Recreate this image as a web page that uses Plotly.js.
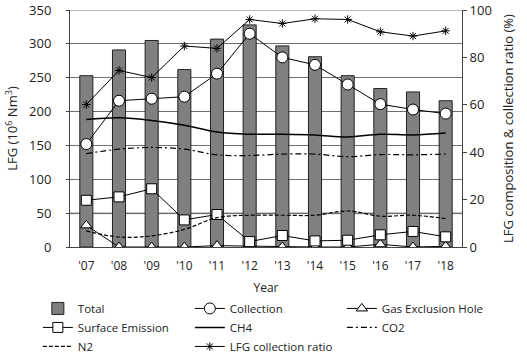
<!DOCTYPE html>
<html><head><meta charset="utf-8">
<script src="https://cdn.plot.ly/plotly-3.0.1.min.js"></script>
<style>html,body{margin:0;padding:0;background:#fff}#c{width:527px;height:353px}</style>
</head><body><div id="c"></div>
<script>
const years = ["'07","'08","'09","'10","'11","'12","'13","'14","'15","'16","'17","'18"];
const total = [253, 291, 305, 262, 307, 328, 297, 281, 253, 234, 229, 216];
const collection = [152, 216, 219, 222, 256, 315, 280, 269, 240, 211, 203, 197];
const gasExclusionHole = [32, 0, 0, 0, 2, 1, 0, 0, 0, 4, 0, 1];
const surfaceEmission = [69, 74, 86, 40, 48, 8, 17, 9, 10, 18, 23, 15];
const ch4 = [53.8, 54.5, 53.4, 51.4, 48.5, 47.6, 47.6, 47.3, 46.4, 47.6, 47.3, 48.1];
const co2 = [39.4, 41.3, 42.0, 41.3, 38.9, 38.6, 39.2, 39.2, 38.1, 39.0, 38.9, 39.2];
const n2 = [6.8, 4.2, 4.7, 7.4, 12.4, 13.4, 13.4, 13.4, 15.2, 13.0, 13.4, 12.0];
const collectionRatio = [60.1, 74.5, 71.5, 84.8, 83.8, 96.0, 94.3, 96.3, 96.0, 90.8, 89.0, 91.2];
const leftTicks = [0, 50, 100, 150, 200, 250, 300, 350];
const rightTicks = [0, 20, 40, 60, 80, 100];

const mk = (sym, size) => ({symbol: sym, size: size, color: '#fff', line: {color: '#000', width: 1}});
const data = [
  {type:'bar', name:'Total', x:years, y:total, width:0.4,
   marker:{color:'#808080', line:{color:'#222', width:1}}},
  {type:'scatter', mode:'lines+markers', name:'Collection', x:years, y:collection,
   line:{color:'#000', width:1}, marker:mk('circle', 11)},
  {type:'scatter', mode:'lines+markers', name:'Gas Exclusion Hole', x:years, y:gasExclusionHole,
   line:{color:'#000', width:1}, marker:mk('triangle-up', 10)},
  {type:'scatter', mode:'lines+markers', name:'Surface Emission', x:years, y:surfaceEmission,
   line:{color:'#000', width:1}, marker:mk('square', 10)},
  {type:'scatter', mode:'lines', name:'CH4', x:years, y:ch4, yaxis:'y2',
   line:{color:'#000', width:1.5, shape:'spline'}},
  {type:'scatter', mode:'lines', name:'CO2', x:years, y:co2, yaxis:'y2',
   line:{color:'#000', width:1.2, shape:'spline', dash:'6px,3px,2px,3px'}},
  {type:'scatter', mode:'lines', name:'N2', x:years, y:n2, yaxis:'y2',
   line:{color:'#000', width:1.2, shape:'spline', dash:'4px,2px'}},
  {type:'scatter', mode:'lines+markers', name:'LFG collection ratio', x:years, y:collectionRatio, yaxis:'y2',
   line:{color:'#000', width:1}, marker:{symbol:'asterisk-open', size:7, color:'#000', line:{color:'#000', width:1}}}
];
const layout = {
  width:527, height:353,
  margin:{l:70, r:65, t:10, b:106, autoexpand:false},
  paper_bgcolor:'#fff', plot_bgcolor:'#fff',
  font:{family:'Open Sans, sans-serif', size:12, color:'#222'},
  showlegend:true,
  xaxis:{type:'category', range:[-0.5,11.5], showgrid:false, showline:true, linecolor:'#444',
    ticks:'', tickfont:{size:12}, ticklabelstandoff:8, title:{text:'Year', font:{size:12}, standoff:10}},
  yaxis:{range:[0,350], tickvals:leftTicks, ticktext:leftTicks.map(String), showgrid:true, gridcolor:'#707070', gridwidth:1,
    showline:true, linecolor:'#444', mirror:false,
    ticks:'outside', ticklen:3, tickcolor:'#444', zeroline:false, tickfont:{size:13}, ticklabelstandoff:12,
    title:{text:'LFG (10<sup>6</sup> Nm<sup>3</sup>)', font:{size:13}, standoff:8}},
  yaxis2:{range:[0,100], tickvals:rightTicks, ticktext:rightTicks.map(String), overlaying:'y', side:'right', showgrid:false,
    showline:true, linecolor:'#444',
    ticks:'outside', ticklen:4, tickcolor:'#444', zeroline:false, tickfont:{size:13}, ticklabelstandoff:0,
    title:{text:'LFG composition &amp; collection ratio (%)', font:{size:13}, standoff:12}},
  shapes:[
    {type:'line', xref:'paper', yref:'y', x0:0, x1:1, y0:350, y1:350, line:{color:'#707070', width:1}, layer:'below'},
    {type:'line', xref:'paper', yref:'y', x0:0, x1:1, y0:50, y1:50, line:{color:'#b4b4b4', width:2}, layer:'below'}
  ],
  legend:{orientation:'h', x:-0.082, y:-0.198, xanchor:'left', yanchor:'top',
    entrywidth:107, entrywidthmode:'pixels', font:{size:11.5}, itemwidth:30,
    bgcolor:'rgba(0,0,0,0)'}
};
Plotly.newPlot('c', data, layout, {displayModeBar:false, staticPlot:true});
</script>
</body></html>
